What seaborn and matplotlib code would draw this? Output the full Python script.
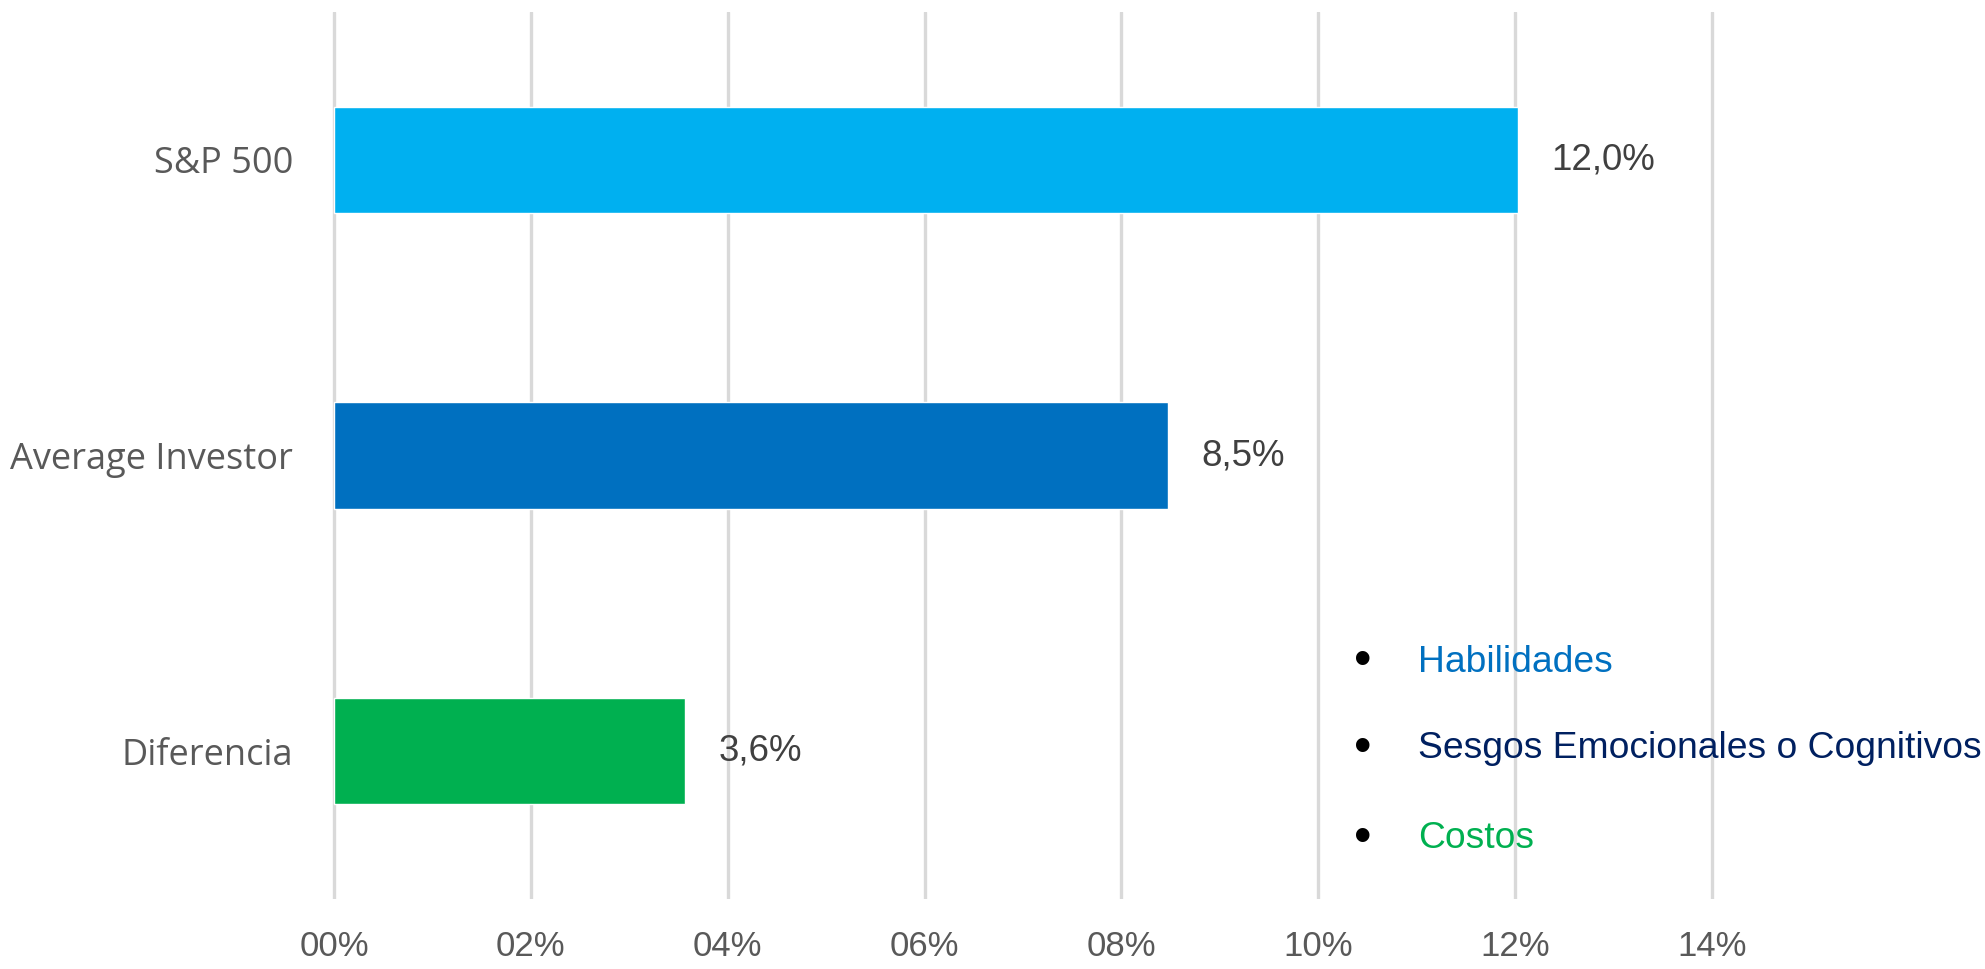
import matplotlib
matplotlib.use("Agg")
import matplotlib.pyplot as plt
import seaborn as sns
import pandas as pd

# ---- data ----
categories = ["S&P 500", "Average Investor", "Diferencia"]
values = [0.1203, 0.0847, 0.0357]
value_labels = ["12,0%", "8,5%", "3,6%"]
bar_colors = ["#00B0F0", "#0070C0", "#00B050"]
x_ticks = [0.00, 0.02, 0.04, 0.06, 0.08, 0.10, 0.12, 0.14]
x_tick_labels = ["00%", "02%", "04%", "06%", "08%", "10%", "12%", "14%"]
notes = ["Habilidades", "Sesgos Emocionales o Cognitivos", "Costos"]
note_colors = ["#0070C0", "#002060", "#00B050"]

sns.set_style("white")
plt.rcParams["font.family"] = ["Liberation Sans", "DejaVu Sans"]

W, H = 1985, 969
fig = plt.figure(figsize=(W / 100, H / 100), dpi=100)
x0_px, x1_px = 329.1, 1716.9
y_top_px, y_bot_px = 12, 899
ax = fig.add_axes([x0_px / W, 1 - y_bot_px / H, (x1_px - x0_px) / W, (y_bot_px - y_top_px) / H])

df = pd.DataFrame({"category": categories, "value": values})
sns.barplot(data=df, x="value", y="category", hue="category", palette=bar_colors,
            orient="h", width=0.36, saturation=1, legend=False, ax=ax)

ax.set_xlim(-0.0005, 0.1405)
ax.set_ylim(2.5, -0.5)
ax.set_xticks(x_ticks)
ax.set_xticklabels(x_tick_labels, fontsize=25, color="#595959")
ax.tick_params(axis="x", length=0, pad=22)
ax.tick_params(axis="y", length=0, pad=26)
for lab in ax.get_yticklabels():
    lab.set_fontfamily(["Open Sans", "DejaVu Sans"])
    lab.set_fontsize(26)
    lab.set_color("#595959")
ax.set_xlabel("")
ax.set_ylabel("")
ax.grid(axis="x", color="#D9D9D9", linewidth=2.4)
ax.grid(axis="y", visible=False)
ax.set_axisbelow(True)
for s in ax.spines.values():
    s.set_visible(False)

for cont, lab in zip(ax.containers, value_labels):
    ax.bar_label(cont, labels=[lab], padding=24, fontsize=26.5, color="#404040")

# bullet notes
note_y_px = [662, 749, 839]
for txt, col, ypx in zip(notes, note_colors, note_y_px):
    fig.text(1363 / W, 1 - ypx / H, "\u2022", fontsize=36, color="black", ha="center", va="center")
    fig.text(1418 / W, 1 - ypx / H, txt, fontsize=26.8, color=col, ha="left", va="center")

fig.savefig("out.png", dpi=100, facecolor="white")
